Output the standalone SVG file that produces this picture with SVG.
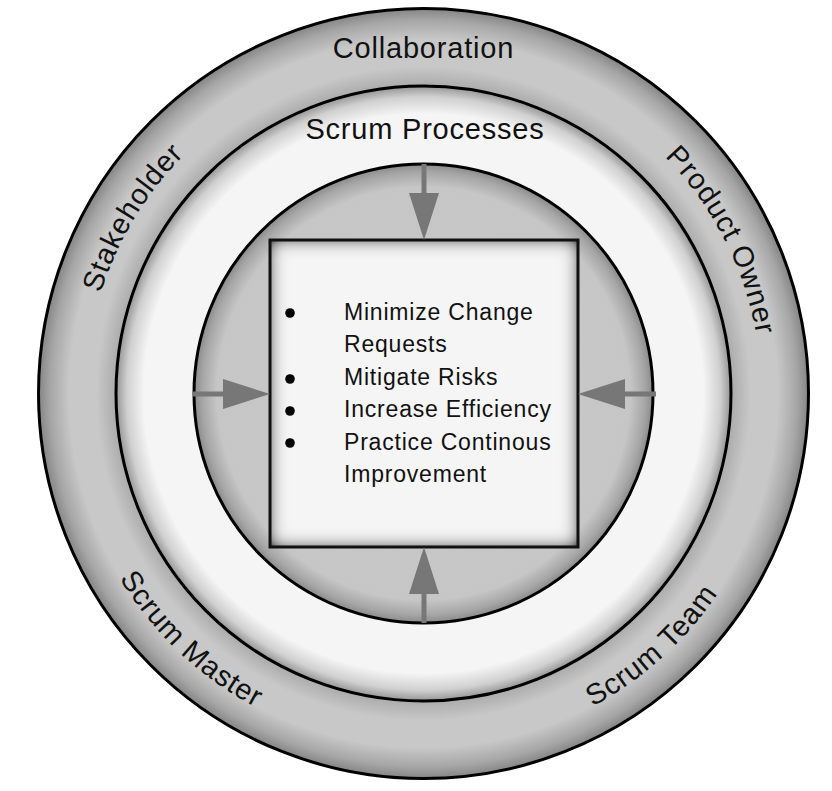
<svg xmlns="http://www.w3.org/2000/svg" width="832" height="791" viewBox="0 0 832 791">
  <style>
    .ring { stroke: #000; stroke-width: 3; }
    .label { font-family: "Liberation Sans", Arial, sans-serif; font-size: 29px; letter-spacing: 0.8px; fill: #111; }
    .item { font-family: "Liberation Sans", Arial, sans-serif; font-size: 23px; letter-spacing: 0.8px; fill: #111; }
    .bullet { fill: #000; }
    .arrow { stroke: #777; stroke-width: 5; fill: none; marker-end: url(#head); }
  </style>
  <defs>
    <radialGradient id="gOuter" gradientUnits="userSpaceOnUse" cx="423.5" cy="393.5" r="385">
      <stop offset="0" stop-color="#c8c8c8"/>
      <stop offset="0.80" stop-color="#acacac"/>
      <stop offset="0.85" stop-color="#c8c8c8"/>
      <stop offset="0.92" stop-color="#c8c8c8"/>
      <stop offset="0.97" stop-color="#a6a6a6"/>
      <stop offset="1" stop-color="#858585"/>
    </radialGradient>
    <radialGradient id="gMiddle" gradientUnits="userSpaceOnUse" cx="423.5" cy="393.5" r="307.5">
      <stop offset="0" stop-color="#f5f5f5"/>
      <stop offset="0.91" stop-color="#f5f5f5"/>
      <stop offset="0.965" stop-color="#d0d0d0"/>
      <stop offset="1" stop-color="#959595"/>
    </radialGradient>
    <radialGradient id="gInner" gradientUnits="userSpaceOnUse" cx="423.5" cy="393.5" r="229.5">
      <stop offset="0" stop-color="#c9c9c9"/>
      <stop offset="0.90" stop-color="#c6c6c6"/>
      <stop offset="0.965" stop-color="#a6a6a6"/>
      <stop offset="1" stop-color="#8a8a8a"/>
    </radialGradient>
    <filter id="innerShadow" x="-15%" y="-15%" width="130%" height="130%">
      <feFlood flood-color="#000" flood-opacity="1" result="f"/>
      <feComposite in="f" in2="SourceAlpha" operator="out" result="o"/>
      <feGaussianBlur in="o" stdDeviation="9" result="b"/>
      <feComposite in="b" in2="SourceAlpha" operator="in" result="s"/>
      <feComponentTransfer in="s" result="s2">
        <feFuncA type="linear" slope="1.3"/>
      </feComponentTransfer>
      <feMerge><feMergeNode in="SourceGraphic"/><feMergeNode in="s2"/></feMerge>
    </filter>
    <marker id="head" markerUnits="userSpaceOnUse" markerWidth="47" markerHeight="30" refX="7" refY="15" orient="auto" viewBox="0 0 47 30">
      <path d="M0,0 L47,15 L0,30 Z" fill="#777"/>
    </marker>
    <path id="arcTop" d="M 85.5 393.5 A 338 338 0 0 1 761.5 393.5"/>
    <path id="arcBottom" d="M 67.5 393.5 A 356 356 0 0 0 779.5 393.5"/>
  </defs>

  <g id="collaboration">
    <circle class="ring" cx="423.5" cy="393.5" r="385" fill="url(#gOuter)"/>
    <text class="label" x="423.5" y="58" text-anchor="middle">Collaboration</text>
  </g>

  <g id="stakeholder">
    <text class="label"><textPath href="#arcTop" startOffset="17.3%" text-anchor="middle">Stakeholder</textPath></text>
  </g>
  <g id="product-owner">
    <text class="label"><textPath href="#arcTop" startOffset="84.9%" text-anchor="middle">Product Owner</textPath></text>
  </g>
  <g id="scrum-master">
    <text class="label"><textPath href="#arcBottom" startOffset="25.9%" text-anchor="middle">Scrum Master</textPath></text>
  </g>
  <g id="scrum-team">
    <text class="label"><textPath href="#arcBottom" startOffset="73.4%" text-anchor="middle">Scrum Team</textPath></text>
  </g>

  <g id="scrum-processes">
    <circle class="ring" cx="423.5" cy="393.5" r="307.5" fill="url(#gMiddle)"/>
    <text class="label" x="425" y="139" text-anchor="middle">Scrum Processes</text>
  </g>

  <g id="core">
    <circle class="ring" cx="423.5" cy="393.5" r="229.5" fill="url(#gInner)"/>
  </g>

  <g id="goals">
    <rect x="270" y="240" width="308" height="307" fill="#f5f5f5" filter="url(#innerShadow)"/>
    <rect x="270" y="240" width="308" height="307" fill="none" stroke="#111" stroke-width="3"/>
    <circle class="bullet" cx="290" cy="313" r="4.8"/>
    <circle class="bullet" cx="290" cy="379" r="4.8"/>
    <circle class="bullet" cx="290" cy="411" r="4.8"/>
    <circle class="bullet" cx="290" cy="443" r="4.8"/>
    <text class="item" x="344" y="320">Minimize Change</text>
    <text class="item" x="344" y="352">Requests</text>
    <text class="item" x="344" y="385">Mitigate Risks</text>
    <text class="item" x="344" y="417">Increase Efficiency</text>
    <text class="item" x="344" y="450">Practice Continous</text>
    <text class="item" x="344" y="482">Improvement</text>
  </g>

  <g id="connectors">
    <line class="arrow" x1="424" y1="164" x2="424" y2="200"/>
    <line class="arrow" x1="193" y1="394" x2="230" y2="394"/>
    <line class="arrow" x1="656" y1="394" x2="618" y2="394"/>
    <line class="arrow" x1="424" y1="623" x2="424" y2="587"/>
  </g>
</svg>
